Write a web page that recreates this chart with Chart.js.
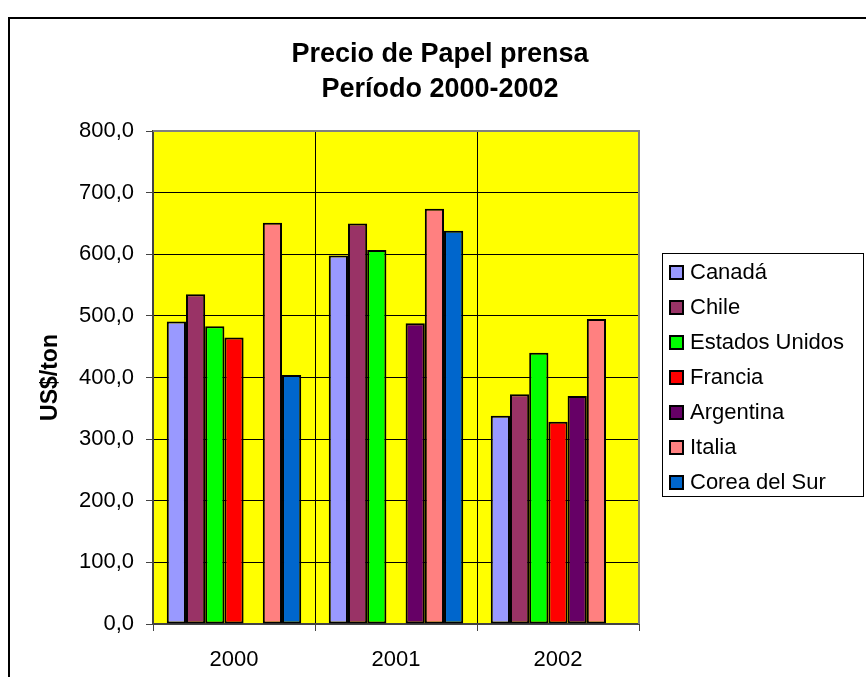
<!DOCTYPE html>
<html>
<head>
<meta charset="utf-8">
<title>Precio de Papel prensa</title>
<script src="https://cdn.jsdelivr.net/npm/chart.js@4"></script>
<style>
  html, body { margin: 0; padding: 0; background: #fff; }
  canvas { display: block; }
</style>
</head>
<body>
<canvas id="papelChart" width="866" height="677"></canvas>
<script>
// datos (US$/ton)
const years = ['2000', '2001', '2002'];
const canada = [491, 598, 338];
const chile = [535, 650, 373];
const estadosUnidos = [483, 607, 440];
const francia = [465, null, 328];
const argentina = [null, 488, 370];
const italia = [651, 674, 495];
const coreaDelSur = [404, 638, null];
const yTickLabels = ['0,0', '100,0', '200,0', '300,0', '400,0', '500,0', '600,0', '700,0', '800,0'];
const titleLines = ['Precio de Papel prensa', 'Período 2000-2002'];

const FONT = '"Liberation Sans", Arial, sans-serif';

function serie(label, data, color) {
  return {
    label, data,
    backgroundColor: color,
    borderColor: '#000',
    borderWidth: 2,
    borderSkipped: false
  };
}

// fondo, marco del grafico y area amarilla
const fondo = {
  id: 'fondo',
  beforeDraw(chart) {
    const { ctx, chartArea: a } = chart;
    ctx.save();
    ctx.fillStyle = '#fff';
    ctx.fillRect(0, 0, chart.width, chart.height);
    ctx.strokeStyle = '#000';
    ctx.lineWidth = 2;
    ctx.strokeRect(9, 18, 900, 700);
    ctx.fillStyle = '#ffff00';
    ctx.fillRect(a.left, a.top, a.right - a.left, a.bottom - a.top);
    ctx.restore();
  },
  afterDraw(chart) {
    const { ctx, chartArea: a } = chart;
    ctx.save();
    // borde gris arriba y a la derecha
    ctx.strokeStyle = '#808080';
    ctx.lineWidth = 2;
    ctx.beginPath();
    ctx.moveTo(a.left, a.top);
    ctx.lineTo(a.right, a.top);
    ctx.lineTo(a.right, a.bottom);
    ctx.stroke();

    // titulo
    ctx.fillStyle = '#000';
    ctx.font = 'bold 27px ' + FONT;
    ctx.textAlign = 'center';
    ctx.textBaseline = 'alphabetic';
    ctx.fillText(titleLines[0], 440, 62);
    ctx.fillText(titleLines[1], 440, 97);

    // leyenda con recuadro
    ctx.fillStyle = '#fff';
    ctx.fillRect(662, 253, 202, 244);
    ctx.strokeStyle = '#000';
    ctx.lineWidth = 1;
    ctx.strokeRect(662.5, 253.5, 201, 243);
    ctx.font = '22px ' + FONT;
    ctx.textAlign = 'left';
    ctx.textBaseline = 'middle';
    chart.data.datasets.forEach((ds, i) => {
      const y = 272 + i * 35;
      ctx.fillStyle = ds.backgroundColor;
      ctx.fillRect(670, y - 6, 13, 13);
      ctx.lineWidth = 2;
      ctx.strokeRect(670, y - 6, 13, 13);
      ctx.fillStyle = '#000';
      ctx.fillText(ds.label, 690, y + 1);
    });
    ctx.restore();
  }
};

new Chart(document.getElementById('papelChart'), {
  type: 'bar',
  data: {
    labels: years,
    datasets: [
      serie('Canadá', canada, '#9999ff'),
      serie('Chile', chile, '#993366'),
      serie('Estados Unidos', estadosUnidos, '#00ff00'),
      serie('Francia', francia, '#ff0000'),
      serie('Argentina', argentina, '#660066'),
      serie('Italia', italia, '#ff8080'),
      serie('Corea del Sur', coreaDelSur, '#0066cc')
    ]
  },
  options: {
    responsive: false,
    animation: false,
    layout: { padding: { left: 0, top: 131, right: 227, bottom: 0 } },
    datasets: { bar: { categoryPercentage: 0.83, barPercentage: 1 } },
    plugins: {
      legend: { display: false },
      title: { display: false },
      tooltip: { enabled: false }
    },
    scales: {
      x: {
        afterFit(scale) { scale.height = 53; },
        grid: { color: '#000', lineWidth: 1, tickLength: 7, tickColor: '#444' },
        border: { color: '#444', width: 2 },
        ticks: { color: '#000', font: { family: FONT, size: 22 }, padding: 16 }
      },
      y: {
        min: 0,
        max: 800,
        afterFit(scale) { scale.width = 153; },
        grid: { color: '#000', lineWidth: 1, tickLength: 7, tickColor: '#444' },
        border: { color: '#444', width: 2 },
        ticks: {
          stepSize: 100,
          color: '#000',
          font: { family: FONT, size: 22 },
          padding: 12,
          callback: (v, i) => yTickLabels[i]
        },
        title: {
          display: true,
          text: 'US$/ton',
          color: '#000',
          font: { family: FONT, size: 23, weight: 'bold' },
          padding: { top: 37, bottom: 0 }
        }
      }
    }
  },
  plugins: [fondo]
});
</script>
</body>
</html>
